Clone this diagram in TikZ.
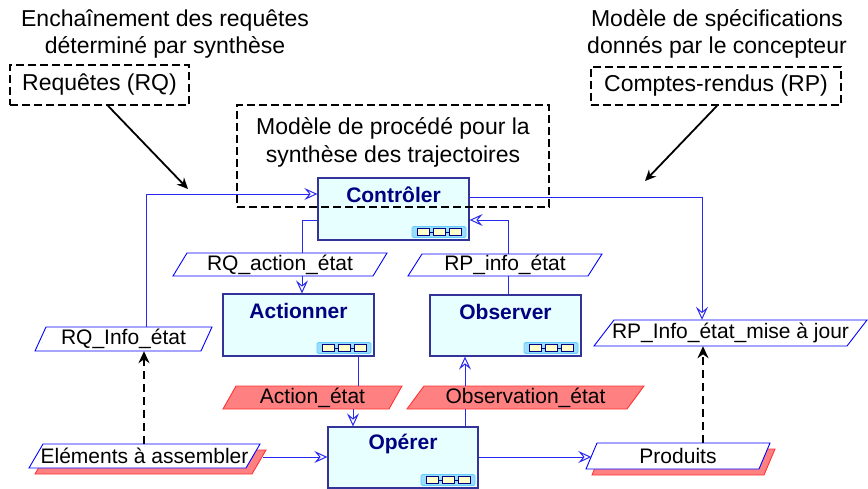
\documentclass[tikz,border=0pt]{standalone}
\usepackage{fontspec}
\setmainfont{Liberation Sans}
\usetikzlibrary{arrows.meta,calc}
\definecolor{boxblue}{RGB}{51,51,153}
\definecolor{boxfill}{RGB}{232,255,255}
\definecolor{navy}{RGB}{0,0,128}
\definecolor{lineblue}{RGB}{40,40,240}
\definecolor{pblue}{RGB}{0,0,255}
\definecolor{redfill}{RGB}{255,128,128}
\definecolor{redline}{RGB}{255,51,51}
\definecolor{iconfill}{RGB}{153,221,255}
\definecolor{iconedge}{RGB}{102,204,255}
\definecolor{iconin}{RGB}{255,255,204}
\tikzset{
  pboxst/.style={draw=boxblue, fill=boxfill, line width=1.3pt, inner sep=0pt},
  ptitle/.style={font=\fontsize{21}{24}\selectfont\bfseries, text=navy, inner sep=0pt},
  lbl/.style={font=\fontsize{21}{24}\selectfont, inner sep=0pt},
  hdr/.style={font=\fontsize{23}{27.5}\selectfont, align=center, inner sep=0pt},
  whitepg/.style={draw=pblue, fill=white, line width=0.9pt},
  redpg/.style={draw=redline, fill=redfill, line width=0.9pt},
  dbox/.style={draw=black, dash pattern=on 8pt off 4pt, line width=1.6pt},
  wire/.style={draw=lineblue, line width=1pt},
  conn/.style={wire, -{Stealth[open, length=13pt, width=12pt, inset=5pt]}},
  blkarrow/.style={draw=black, line width=1.8pt, -{Stealth[length=11pt, width=10pt]}},
  dasharrow/.style={draw=black, line width=2.2pt, dash pattern=on 8pt off 5pt, -{Stealth[length=12pt, width=11pt]}},
  icon/.pic={
    \draw[fill=iconfill, draw=iconedge, line width=0.8pt, rounded corners=1.5pt] (-27,-5.5) rectangle (27,5.5);
    \draw[navy, line width=0.8pt] (-10,0) -- (-6,0) (6,0) -- (10,0);
    \foreach \i in {-16,0,16}
      \draw[fill=iconin, draw=navy, line width=0.8pt] (\i-6,-3.5) rectangle (\i+6,3.5);
  }
}
% style, x bottom-left, x top-right, y top, y bottom, slant
\newcommand\pshape[6]{\draw[#1] (#2,#5) -- ({#3-#6},#5) -- (#3,#4) -- ({#2+#6},#4) -- cycle;}
% name, style, x bottom-left, x top-right, y top, y bottom, slant, text
\newcommand\pgram[8]{%
  \pshape{#2}{#3}{#4}{#5}{#6}{#7}
  \node[lbl, minimum width={#4-#3-#7}, minimum height={#6-#5}] (#1) at ({(#3+#4)/2},{(#5+#6)/2}) {#8};
}
% name, x1, y1, x2, y2, title
\newcommand\pbox[6]{%
  \node[pboxst, minimum width={#4-#2}, minimum height={#5-#3}] (#1) at ({(#2+#4)/2},{(#3+#5)/2}) {};
  \node[ptitle] (#1t) at ({(#2+#4)/2},{#3+17}) {#6};
  \pic at ({#4-30},{#5-8}) {icon};
}
\begin{document}
\begin{tikzpicture}[x=1pt,y=-1pt]
\useasboundingbox[fill=white] (0,0) rectangle (868,488);

% headers
\node[hdr] (h1) at (165,34) {Enchaînement des requêtes\\déterminé par synthèse};
\node[hdr] (h2) at (717,34) {Modèle de spécifications\\donnés par le concepteur};
\node[dbox, hdr, minimum width=179, minimum height=40] (req) at (99.5,85) {Requêtes (RQ)};
\node[dbox, hdr, minimum width=250, minimum height=38] (cr) at (716,86) {Comptes-rendus (RP)};

% process boxes
\pbox{ctrl}{318}{178}{469}{240}{Contrôler}
\pbox{act}{223}{294}{374}{356}{Actionner}
\pbox{obs}{430}{295}{581}{356}{Observer}
\pbox{op}{328}{427}{478}{488}{Opérer}

% middle dashed box (on top)
\node[dbox, minimum width=312, minimum height=102] (mid) at (393,156) {};
\node[hdr] (midt) at (393,142.5) {Modèle de procédé pour la\\synthèse des trajectoires};

% parallelograms
\pgram{rqaction}{whitepg}{173}{387}{253}{276}{14}{RQ\_action\_état}
\pgram{rpinfo}{whitepg}{408}{602}{254}{276}{14}{RP\_info\_état}
\pgram{rqinfo}{whitepg}{35}{212}{327}{351}{11}{RQ\_Info\_état}
\pgram{rpmise}{whitepg}{594}{867}{320}{346}{20}{RP\_Info\_état\_mise à jour}
\pgram{actetat}{redpg}{223}{402}{386}{409}{13}{Action\_état}
\pgram{obsetat}{redpg}{407}{644}{386}{409}{17}{Observation\_état}
\pshape{redpg}{35}{266}{450}{474}{14}
\pgram{elem}{whitepg}{29}{260}{444}{468}{14}{Eléments à assembler}
\pshape{redpg}{592}{775}{449}{475}{11}
\pgram{prod}{whitepg}{586}{770}{443}{469}{11}{Produits}

% connectors
\draw[conn] (146,0 |- rqinfo.north) |- (ctrl.west |- 0,194);
\draw[conn] (ctrl.east |- 0,197) -| (702,0 |- rpmise.north);
\draw[wire] (ctrl.west |- 0,220) -| (302,0 |- rqaction.north);
\draw[conn] (302,0 |- rqaction.south) -- (302,0 |- act.north);
\draw[conn] (508,0 |- rpinfo.north) |- (ctrl.east |- 0,220);
\draw[wire] (508,0 |- obs.north) -- (508,0 |- rpinfo.south);
\draw[wire] (358,0 |- act.south) -- (358,0 |- actetat.north);
\draw[conn] (353,0 |- actetat.south) -- (353,0 |- op.north);
\draw[wire] (465,0 |- op.north) -- (465,0 |- obsetat.south);
\draw[conn] (465,0 |- obsetat.north) -- (465,0 |- obs.south);
\draw[conn] ([xshift=10pt]elem.east |- 0,457) -- (op.west |- 0,457);
\draw[conn] (op.east |- 0,457) -- (prod.west |- 0,457);
\draw[dasharrow] (144,0 |- elem.north) -- (144,0 |- rqinfo.south);
\draw[dasharrow] (703,0 |- prod.north) -- (703,0 |- rpmise.south);

% black arrows
\coordinate (e1) at (188,189);
\coordinate (e2) at (645,181);
\draw[blkarrow] (108,0 |- req.south) -- (e1);
\draw[blkarrow] (717,0 |- cr.south) -- (e2);
\end{tikzpicture}
\end{document}
